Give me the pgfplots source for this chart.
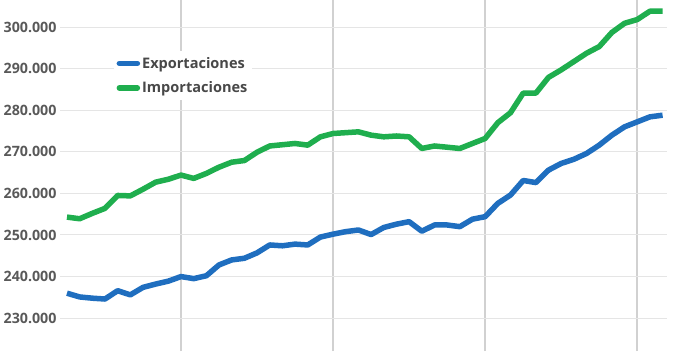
\documentclass[border=0pt]{standalone}
\usepackage{fontspec}
\setmainfont{Open Sans}
\usepackage{pgfplots}
\pgfplotsset{compat=1.18}
\definecolor{expblue}{HTML}{1F6EBF}
\definecolor{impgreen}{HTML}{1FAE4E}
\definecolor{txtgray}{HTML}{595959}
\definecolor{leggray}{HTML}{484848}
\pgfplotstableread{
i exp imp
0 236.0 254.3
1 235.1 253.9
2 234.8 255.2
3 234.6 256.4
4 236.6 259.5
5 235.6 259.4
6 237.4 261.0
7 238.2 262.7
8 238.9 263.4
9 240.0 264.4
10 239.5 263.6
11 240.2 264.8
12 242.8 266.3
13 244.0 267.5
14 244.4 267.9
15 245.7 269.9
16 247.6 271.4
17 247.4 271.7
18 247.8 272.0
19 247.6 271.6
20 249.5 273.6
21 250.2 274.4
22 250.8 274.6
23 251.2 274.8
24 250.1 274.0
25 251.8 273.6
26 252.6 273.8
27 253.2 273.6
28 250.9 270.8
29 252.4 271.4
30 252.4 271.1
31 252.0 270.8
32 253.8 272.0
33 254.4 273.2
34 257.6 277.0
35 259.6 279.4
36 263.1 284.1
37 262.6 284.1
38 265.6 287.9
39 267.2 289.7
40 268.2 291.7
41 269.6 293.7
42 271.6 295.3
43 274.0 298.7
44 276.0 300.9
45 277.2 301.8
46 278.4 303.8
47 278.8 303.8
}\data
\begin{document}
\begin{tikzpicture}[x=1bp,y=1bp]
\useasboundingbox (0,0) rectangle (682,351);
\begin{axis}[
  at={(60bp,0bp)}, anchor=south west,
  scale only axis, width=607bp, height=351bp,
  xmin=-0.55, xmax=47.35, ymin=222.1, ymax=306.5,
  axis line style={draw=none},
  major tick length=0pt,
  xtick={9,21,33,45}, xticklabels={},
  ytick={230,240,...,300},
  yticklabels={230.000,240.000,250.000,260.000,270.000,280.000,290.000,300.000},
  ymajorgrids, xmajorgrids,
  y grid style={color=black!10, line width=1bp},
  x grid style={color=black!18, line width=2bp},
  yticklabel style={font=\bfseries\fontsize{14.3}{15}\selectfont\color{txtgray}},
  legend style={at={(rel axis cs:0.088,0.855)}, anchor=north west, draw=none, fill=white,
    font=\bfseries\fontsize{14.6}{18}\selectfont\color{leggray}, row sep=8bp, inner xsep=3bp, inner ysep=4bp},
  legend cell align=left,
  legend image code/.code={\draw[#1, line width=5.5bp, line cap=round] (0bp,0bp) -- (18bp,0bp);},
]
\addplot[expblue, line width=5.5bp, line join=round] table[x=i, y=exp] {\data};
\addlegendentry{Exportaciones}
\addplot[impgreen, line width=5.5bp, line join=round] table[x=i, y=imp] {\data};
\addlegendentry{Importaciones}
\end{axis}
\end{tikzpicture}
\end{document}
